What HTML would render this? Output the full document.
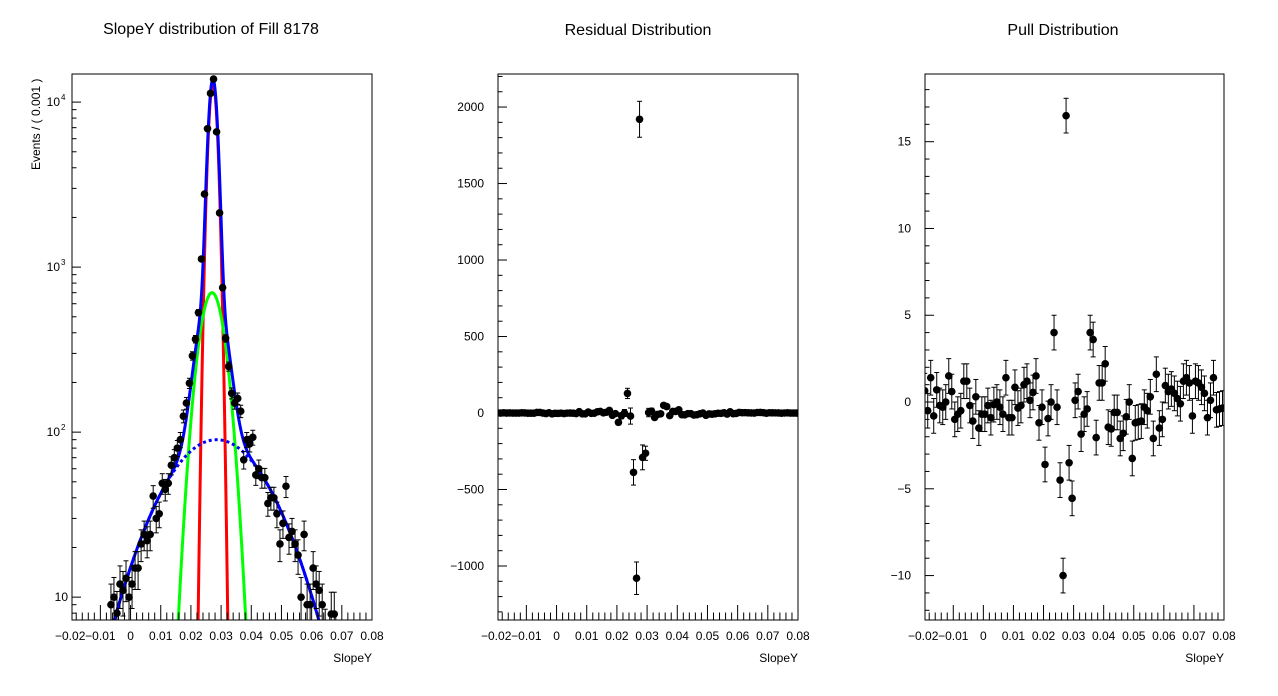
<!DOCTYPE html>
<html><head><meta charset="utf-8">
<style>
html,body{margin:0;padding:0;background:#fff;width:1278px;height:696px;overflow:hidden;}
svg{display:block;font-family:"Liberation Sans",Arial,sans-serif;overflow:hidden;}
</style></head>
<body>
<svg id="c" width="1278" height="696" viewBox="0 0 1278 696" xmlns="http://www.w3.org/2000/svg">
<rect width="1278" height="696" fill="#fff"/>
<text x="211" y="34" font-size="16" text-anchor="middle">SlopeY distribution of Fill 8178</text>
<text x="638" y="35" font-size="16" text-anchor="middle">Residual Distribution</text>
<text x="1063" y="35" font-size="16" text-anchor="middle">Pull Distribution</text>
<text transform="translate(40,170) rotate(-90)" font-size="12" text-anchor="start">Events / ( 0.001 )</text>
<text x="372" y="662" font-size="12" text-anchor="end">SlopeY</text>
<text x="798" y="662" font-size="12" text-anchor="end">SlopeY</text>
<text x="1224" y="662" font-size="12" text-anchor="end">SlopeY</text>
</svg>
<script>
// ---- data (bin centers: -0.0195 + 0.001*i, 100 bins) ----
const binStart = -0.0195;
const binWidth = 0.001;
const counts = [0,0,1,0,1,1,2,1,2,2, 2,3,4,9,10,8,12,11,13,10, 12,15,15,21,24,22,24,41,30,32, 49,45,49,63,70,80,90,125,150,198, 290,366,530,1120,2770,6900,11300,13800,6600,2130, 750,370,250,172,150,160,134,68,90,85, 93,55,60,53,53,37,40,40,32,21, 28,47,23,25,21,18,10,24,9,9, 15,12,11,9,6,5,7.9,7.9,4,3, 2,2,1,1,1,0,1,0,0,0];
const residuals = [0.5,-0.5,1,-0.5,0.5,0,0,0,1,0.5, -1,-1,-1,3.6,3.8,-0.6,-3.8,1,-5.4,-2.2, -2.4,-0.8,-3.5,-0.7,0,-1.4,-3.4,9,-5,-5, 6,-2.3,-1.4,8,10,1,5,17,-15,-4, -61,-18,0,128,-20,-388,-1080,1920,-290,-263, 3,12,-29,-9,-5,50,42,-17,10,10, 21,-11,-12,-4,-4,-13,-11,-5,0,-15, -6,-8,-5,-1.5,-2.3,1.3,-6.7,8,-4.5,-3, 3.7,2,2.5,1.5,0.5,-0.2,3.4,3.9,2.2,-1.4, 1.7,1.5,0.9,0.5,-0.9,0.1,1.4,-0.5,-0.4,-0.35];
const pulls = [0.65,-0.5,1.4,-0.8,0.7,-0.2,-0.3,0,1.5,0.6, -1.0,-0.7,-0.5,1.2,1.2,-0.2,-1.1,0.3,-1.5,-0.7, -0.7,-0.2,-0.9,-0.15,0,-0.3,-0.7,1.4,-0.9,-0.9, 0.85,-0.35,-0.2,1.0,1.2,0.1,0.55,1.5,-1.2,-0.3, -3.6,-0.95,0,4.0,-0.3,-4.5,-10,16.5,-3.5,-5.55, 0.1,0.6,-1.85,-0.7,-0.4,4.0,3.6,-2.05,1.1,1.1, 2.2,-1.45,-1.55,-0.6,-0.6,-2.1,-1.8,-0.85,0,-3.25, -1.2,-1.15,-1.1,-0.3,-0.5,0.3,-2.1,1.6,-1.5,-1.0, 0.95,0.6,0.75,0.5,0.2,-0.1,1.2,1.4,1.1,-0.8, 1.2,1.1,0.85,0.5,-0.9,0.1,1.4,-0.45,-0.4,-0.35];
// fit model components: narrow (red), medium (green), wide (blue dotted)
const compAmp = [13000, 700, 90];
const compMean = [0.0273, 0.027, 0.0285];
const compSigma = [0.00127, 0.0037, 0.0151];
const xTicks = [-0.02,-0.01,0,0.01,0.02,0.03,0.04,0.05,0.06,0.07,0.08];
const xTickLabels = ["\u22120.02","\u22120.01","0","0.01","0.02","0.03","0.04","0.05","0.06","0.07","0.08"];
const resTicks = [-1000,-500,0,500,1000,1500,2000];
const resTickLabels = ["\u22121000","\u2212500","0","500","1000","1500","2000"];
const pullTicks = [-10,-5,0,5,10,15];
const pullTickLabels = ["\u221210","\u22125","0","5","10","15"];

const NS = "http://www.w3.org/2000/svg";
const svg = document.getElementById('c');
const XMIN = -0.0194, XMAX = 0.08, YT = 74, YB = 620;
const clampY = y => Math.max(YT - 10, Math.min(YB + 10, y));
function mk(tag, attrs, parent) {
  const e = document.createElementNS(NS, tag);
  for (const k in attrs) e.setAttribute(k, attrs[k]);
  (parent || svg).appendChild(e);
  return e;
}
function makePanel(x0, x1, name) {
  const g = mk('g', {});
  
  
  const clipId = name + '-clip';
  const cp = mk('clipPath', {id: clipId}, g);
  mk('rect', {x: x0, y: YT, width: x1 - x0, height: YB - YT}, cp);
  const sx = v => x0 + (v - XMIN) / (XMAX - XMIN) * (x1 - x0);
  return {g, sx, x0, x1, clipId};
}
function drawXAxis(p) {
  const ax = mk('g', {stroke: '#000', 'stroke-width': 1}, p.g);
  
  
  for (let k = -10; k <= 40; k++) {
    const v = k * 0.002;
    if (v < XMIN - 1e-9 || v > XMAX + 1e-9) continue;
    const major = (k % 5 === 0);
    const X = p.sx(v);
    mk('line', {x1: X, x2: X, y1: YB, y2: YB - (major ? 15 : 7.5)}, ax);
  }
  xTicks.forEach((v, i) => {
    const t = mk('text', {x: p.sx(v), y: YB + 20, 'font-size': 12, 'text-anchor': 'middle', stroke: 'none'}, p.g);
    t.textContent = xTickLabels[i];
    
    
  });
}
function drawFrame(p) {
  const r = mk('rect', {x: p.x0, y: YT, width: p.x1 - p.x0, height: YB - YT, fill: 'none', stroke: '#000', 'stroke-width': 1}, p.g);
  
  
}
function drawPoint(p, cx, cy, elo, ehi, parent, nm) {
  cy = clampY(cy); elo = clampY(elo); ehi = clampY(ehi);
  const g = mk('g', {'clip-path': 'url(#' + p.clipId + ')', stroke: '#000', 'stroke-width': 1}, parent);
  
  
  mk('line', {x1: cx, x2: cx, y1: elo, y2: ehi}, g);
  mk('line', {x1: cx - 2.5, x2: cx + 2.5, y1: elo, y2: elo}, g);
  mk('line', {x1: cx - 2.5, x2: cx + 2.5, y1: ehi, y2: ehi}, g);
  mk('line', {x1: cx - 1.5, x2: cx + 1.5, y1: cy, y2: cy}, g);
  mk('circle', {cx: cx, cy: cy, r: 3.8, fill: '#000', stroke: 'none'}, g);
}

// ---------- Panel 1: fit (log scale) ----------
(function(){
  const p = makePanel(72, 372, 'fit-panel');
  const LMIN = Math.log10(7.27), LMAX = Math.log10(14800);
  const sy = v => YB - (Math.log10(v) - LMIN) / (LMAX - LMIN) * (YB - YT);
  const comp = (k, x) => compAmp[k] * Math.exp(-0.5 * Math.pow((x - compMean[k]) / compSigma[k], 2));
  const curves = [
    {name: 'red-narrow-gaussian', col: '#ff0000', f: x => comp(0, x), dash: null},
    {name: 'green-medium-gaussian', col: '#00ff00', f: x => comp(1, x), dash: null},
    {name: 'blue-wide-component', col: '#0000ff', f: x => comp(2, x), dash: '3,3'},
    {name: 'blue-total-fit', col: '#0000ff', f: x => comp(0, x) + comp(1, x) + comp(2, x), dash: null}
  ];
  curves.forEach(c => {
    let d = '';
    for (let j = 0; j <= 1200; j++) {
      const x = XMIN + (XMAX - XMIN) * j / 1200;
      const v = Math.max(c.f(x), 1e-3);
      d += (j ? 'L' : 'M') + p.sx(x).toFixed(2) + ' ' + clampY(sy(v)).toFixed(2);
    }
    const a = {d: d, fill: 'none', stroke: c.col, 'stroke-width': 3, 'clip-path': 'url(#' + p.clipId + ')'};
    if (c.dash) a['stroke-dasharray'] = c.dash;
    const path = mk('path', a, p.g);
    
    
  });
  const pts = mk('g', {}, p.g);
  
  
  counts.forEach((c, i) => {
    if (c <= 0) return;
    const x = binStart + binWidth * i;
    const e = Math.sqrt(c);
    if (sy(c + e) > YB) return;
    drawPoint(p, p.sx(x), sy(c), sy(Math.max(c - e, 1e-3)), sy(c + e), pts, 'data-point');
  });
  const ax = mk('g', {stroke: '#000', 'stroke-width': 1}, p.g);
  
  
  for (let dec = 0; dec <= 4; dec++) {
    for (let m = 1; m <= 9; m++) {
      const v = m * Math.pow(10, dec);
      if (v < 7.27 || v > 14800) continue;
      const Y = sy(v);
      mk('line', {x1: p.x0, x2: p.x0 + (m === 1 ? 9 : 4.5), y1: Y, y2: Y}, ax);
    }
  }
  [[10, '10', ''], [100, '10', '2'], [1000, '10', '3'], [10000, '10', '4']].forEach(t => {
    const Y = sy(t[0]);
    const tx = mk('text', {x: t[2] ? 60 : 68, y: Y + 4, 'font-size': 12, 'text-anchor': 'end'}, p.g);
    tx.textContent = t[1];
    
    
    if (t[2]) {
      const s = mk('text', {x: 61, y: Y - 2, 'font-size': 8}, p.g);
      s.textContent = t[2];
      
      
    }
  });
  drawXAxis(p);
  drawFrame(p);
})();

// ---------- Panels 2 & 3: residual and pull ----------
function linearPanel(x0, x1, name, vals, errs, ymin, ymax, majorStep, minorStep, ticks, labels) {
  const p = makePanel(x0, x1, name);
  const sy = v => YB - (v - ymin) / (ymax - ymin) * (YB - YT);
  const pts = mk('g', {}, p.g);
  
  
  vals.forEach((v, i) => {
    const x = binStart + binWidth * i;
    const e = errs[i];
    drawPoint(p, p.sx(x), sy(v), sy(v - e), sy(v + e), pts, 'data-point');
  });
  const ax = mk('g', {stroke: '#000', 'stroke-width': 1}, p.g);
  
  
  const k0 = Math.ceil(ymin / minorStep), k1 = Math.floor(ymax / minorStep);
  for (let k = k0; k <= k1; k++) {
    const v = k * minorStep;
    const major = Math.abs(v / majorStep - Math.round(v / majorStep)) < 1e-6;
    const Y = sy(v);
    mk('line', {x1: x0, x2: x0 + (major ? 9 : 4.5), y1: Y, y2: Y}, ax);
  }
  ticks.forEach((v, i) => {
    const t = mk('text', {x: x0 - 14, y: sy(v) + 4, 'font-size': 12, 'text-anchor': 'end'}, p.g);
    t.textContent = labels[i];
    
    
  });
  drawXAxis(p);
  drawFrame(p);
}
const resErr = counts.map(c => Math.max(Math.sqrt(c), 1));
const pullErr = pulls.map(() => 1);
linearPanel(498, 798, 'residual-panel', residuals, resErr, -1353, 2216, 500, 100, resTicks, resTickLabels);
linearPanel(925, 1224, 'pull-panel', pulls, pullErr, -12.56, 18.9, 5, 1, pullTicks, pullTickLabels);
</script>
</body></html>
